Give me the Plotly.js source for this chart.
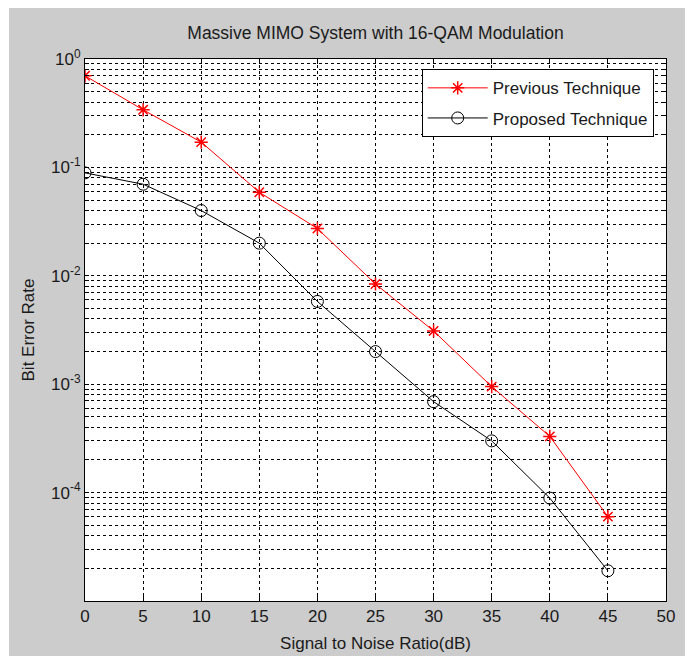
<!DOCTYPE html>
<html>
<head>
<meta charset="utf-8">
<script src="https://cdn.plot.ly/plotly-3.0.1.min.js"></script>
<style>
html,body{margin:0;padding:0;background:#ffffff;width:693px;height:656px;overflow:hidden;}
#chart{position:absolute;left:9px;top:8px;width:676px;height:648px;}
</style>
</head>
<body>
<div id="chart"></div>
<script>
var snr = [0, 5, 10, 15, 20, 25, 30, 35, 40, 45];
var berPrevious = [0.70, 0.34, 0.171, 0.059, 0.0273, 0.0084, 0.0031, 0.00095, 0.00033, 0.00006];
var berProposed = [0.089, 0.070, 0.040, 0.020, 0.0058, 0.0020, 0.00069, 0.00030, 0.000089, 0.000019];
var xTicks = [0, 5, 10, 15, 20, 25, 30, 35, 40, 45, 50];
var decades = [-5, -4, -3, -2, -1, 0];

var yVals = [], yText = [];
decades.forEach(function (d) {
  for (var m = 1; m <= 9; m++) {
    if (d === 0 && m > 1) break;
    yVals.push(m * Math.pow(10, d));
    yText.push(m === 1 && d > -5 ? '10<sup>' + d + '</sup>' : '');
  }
});

var fam = '"Liberation Sans", Arial, sans-serif';
var font = {family: fam, size: 17, color: '#1a1a1a'};
var tickFont = {family: fam, size: 17, color: '#1a1a1a'};

var traces = [
  {
    x: snr, y: berPrevious, name: 'Previous Technique', type: 'scatter', mode: 'lines+markers',
    legendgroup: 'prev',
    line: {color: '#ff0000', width: 1},
    marker: {symbol: 'asterisk-open', size: 11, color: '#ff0000', line: {color: '#ff0000', width: 1.5}}
  },
  {
    x: snr, y: berProposed, name: 'Proposed Technique', type: 'scatter', mode: 'lines+markers',
    legendgroup: 'prop',
    line: {color: '#000000', width: 1},
    marker: {symbol: 'circle-open', size: 12, color: '#000000', line: {color: '#000000', width: 1}}
  }
];

var layout = {
  width: 676, height: 648,
  paper_bgcolor: '#cccccc', plot_bgcolor: '#ffffff',
  margin: {l: 76, r: 19, t: 51, b: 55, autoexpand: false},
  font: font,
  showlegend: true,
  title: {text: 'Massive MIMO System with 16-QAM Modulation', font: {family: fam, size: 17.5, color: '#1a1a1a'},
          x: 0.5, xref: 'paper', y: 1 - 25 / 648, yanchor: 'middle'},
  xaxis: {
    range: [0, 50], tickvals: xTicks, ticktext: xTicks.map(String), automargin: false,
    showgrid: true, gridcolor: '#000000', griddash: '3px,3px', gridwidth: 1,
    zeroline: false, showline: true, linecolor: '#000000', linewidth: 1, mirror: 'ticks',
    ticks: 'inside', ticklen: 5, tickcolor: '#000000',
    tickfont: tickFont,
    title: {text: 'Signal to Noise Ratio(dB)', font: font, standoff: 11}
  },
  yaxis: {
    type: 'log', range: [-5, 0], tickvals: yVals, ticktext: yText, automargin: false,
    showgrid: true, gridcolor: '#000000', griddash: '3px,3px', gridwidth: 1,
    zeroline: false, showline: true, linecolor: '#000000', linewidth: 1, mirror: 'ticks',
    ticks: 'inside', ticklen: 4, tickcolor: '#000000',
    tickfont: tickFont,
    title: {text: 'Bit Error Rate', font: font, standoff: 12}
  },
  legend: {
    x: 0.5795, y: 0.981, xanchor: 'left', yanchor: 'top',
    bgcolor: '#ffffff', bordercolor: '#000000', borderwidth: 1,
    font: font, tracegroupgap: 5, itemwidth: 60
  }
};

Plotly.newPlot('chart', traces, layout, {displayModeBar: false, staticPlot: true});
</script>
</body>
</html>
